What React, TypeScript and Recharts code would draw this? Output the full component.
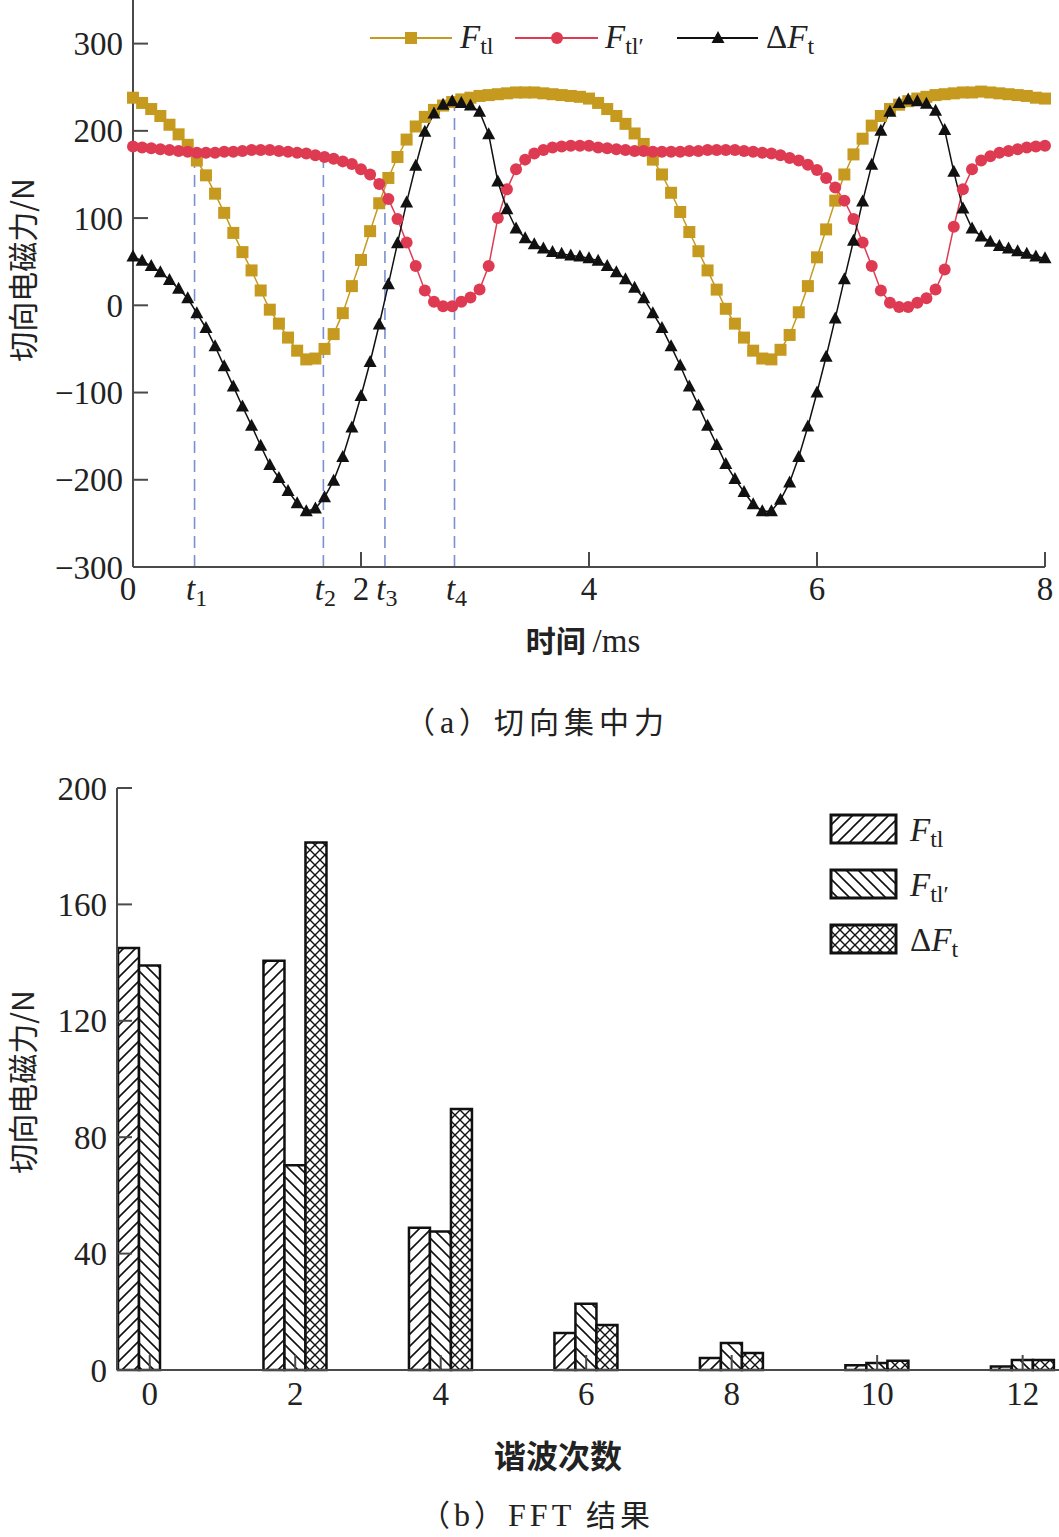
import { Bar, BarChart, Line, LineChart, ReferenceLine, XAxis, YAxis } from "recharts";

// (a) time series, sampled every 0.08 ms
const TIME = [
  0, 0.08, 0.16, 0.24, 0.32, 0.4, 0.48, 0.56, 0.64, 0.72, 0.8, 0.88, 0.96, 1.04, 1.12, 1.2, 1.28, 1.36, 1.44, 1.52,
  1.6, 1.68, 1.76, 1.84, 1.92, 2.0, 2.08, 2.16, 2.24, 2.32, 2.4, 2.48, 2.56, 2.64, 2.72, 2.8, 2.88, 2.96, 3.04, 3.12,
  3.2, 3.28, 3.36, 3.44, 3.52, 3.6, 3.68, 3.76, 3.84, 3.92, 4.0, 4.08, 4.16, 4.24, 4.32, 4.4, 4.48, 4.56, 4.64, 4.72,
  4.8, 4.88, 4.96, 5.04, 5.12, 5.2, 5.28, 5.36, 5.44, 5.52, 5.6, 5.68, 5.76, 5.84, 5.92, 6.0, 6.08, 6.16, 6.24, 6.32,
  6.4, 6.48, 6.56, 6.64, 6.72, 6.8, 6.88, 6.96, 7.04, 7.12, 7.2, 7.28, 7.36, 7.44, 7.52, 7.6, 7.68, 7.76, 7.84, 7.92,
  8.0,
];
const F_TL = [
  238, 232, 225, 217, 207, 196, 184, 166, 149, 128, 106, 83, 61, 40, 17, -5, -21, -37, -52, -62,
  -61, -50, -33, -9, 22, 52, 85, 117, 146, 170, 190, 205, 216, 224, 229, 233, 236, 238, 240, 241,
  242, 243, 244, 244, 244, 243, 242, 241, 240, 239, 237, 232, 225, 217, 208, 197, 185, 167, 150, 129,
  107, 84, 62, 40, 18, -4, -21, -37, -52, -61, -62, -51, -34, -8, 22, 55, 87, 120, 150, 173,
  191, 206, 217, 225, 230, 234, 237, 239, 241, 242, 243, 244, 244, 245, 244, 243, 242, 241, 240, 238,
  237,
];
const F_TL2 = [
  182, 181, 180, 179, 178, 177, 176, 175, 175, 175, 176, 176, 177, 178, 178, 178, 177, 176, 175, 174,
  172, 170, 168, 165, 162, 156, 150, 139, 122, 99, 72, 45, 17, 4, -1, -1, 4, 9, 18, 45,
  100, 133, 156, 167, 174, 178, 181, 182, 183, 183, 183, 181, 180, 179, 178, 177, 177, 176, 176, 176,
  176, 177, 177, 178, 178, 178, 178, 177, 176, 175, 174, 172, 169, 166, 161, 155, 146, 135, 120, 99,
  72, 45, 17, 3, -2, -2, 3, 8, 18, 41, 90, 133, 156, 166, 171, 175, 177, 179, 181, 182,
  183,
];
const DELTA_F = [
  56, 51, 45, 38, 29, 19, 8, -9, -26, -47, -70, -93, -116, -138, -161, -183, -198, -213, -227, -236,
  -233, -220, -201, -174, -140, -104, -65, -22, 24, 71, 118, 160, 199, 220, 230, 234, 232, 229, 222, 196,
  142, 110, 88, 77, 70, 65, 61, 59, 57, 56, 54, 51, 45, 38, 30, 20, 8, -9, -26, -47,
  -69, -93, -115, -138, -160, -182, -199, -214, -228, -236, -236, -223, -203, -174, -139, -100, -59, -15, 30, 74,
  119, 161, 200, 222, 232, 236, 234, 231, 223, 201, 153, 111, 88, 79, 73, 68, 65, 62, 59, 56,
  54,
];

const MARK_T = [0.54, 1.67, 2.21, 2.82];
const MARK_TOP = [166, 172, 130, 238];
const Y_TICKS_A = [-300, -200, -100, 0, 100, 200, 300];

// (b) FFT result
const HARMONICS = [0, 2, 4, 6, 8, 10, 12];
const FFT_TL = [145, 140.6, 48.9, 12.7, 4.1, 1.6, 1.2];
const FFT_TL2 = [139, 70.4, 47.6, 22.8, 9.3, 2.4, 3.4];
const FFT_DF = [0, 181.3, 89.7, 15.5, 5.8, 3.2, 3.4];
const Y_TICKS_B = [0, 40, 80, 120, 160, 200];

const timeData = TIME.map((t, i) => ({ t, ftl: F_TL[i], ftl2: F_TL2[i], df: DELTA_F[i] }));
const fftData = HARMONICS.map((h, i) => ({ h, ftl: FFT_TL[i], ftl2: FFT_TL2[i], df: FFT_DF[i] }));

const SERIF = '"Liberation Serif", "Times New Roman", serif';
const CJK = '"Noto Sans CJK SC", sans-serif';
const GOLD = "#C59A1F";
const RED = "#DE3B52";
const BLACK = "#111";
const AXIS = "#4a4a4a";
const TEXT = "#222";
const DASH = "#7C8FD0";

const fmt = (v: number) => (v < 0 ? `\u2212${Math.abs(v)}` : `${v}`);

function Sub({ base, sub, delta = false }: { base: string; sub: string; delta?: boolean }) {
  return (
    <>
      {delta && <tspan>Δ</tspan>}
      <tspan fontStyle="italic">{base}</tspan>
      <tspan fontSize={24} dy={6}>{sub}</tspan>
    </>
  );
}

function TimeTick({ x, y, payload }: any) {
  const v = payload.value as number;
  const k = MARK_T.indexOf(v);
  if (k >= 0) {
    return (
      <text x={x + 2} y={y + 33} textAnchor="middle" fontSize={33} fontFamily={SERIF} fill={TEXT}>
        <tspan fontStyle="italic">t</tspan>
        <tspan fontSize={24} dy={6}>{k + 1}</tspan>
      </text>
    );
  }
  return (
    <g>
      {v > 0 && <line x1={x} y1={y} x2={x} y2={y - 15} stroke={AXIS} strokeWidth={2} />}
      <text x={v === 0 ? x - 5 : x} y={y + 33} textAnchor="middle" fontSize={33} fontFamily={SERIF} fill={TEXT}>
        {v}
      </text>
    </g>
  );
}

function ValueTick({ x, y, payload }: any) {
  return (
    <g>
      <line x1={x} y1={y} x2={x + 15} y2={y} stroke={AXIS} strokeWidth={2} />
      <text x={x - 10} y={y} dy="0.35em" textAnchor="end" fontSize={33} fontFamily={SERIF} fill={TEXT}>
        {fmt(payload.value)}
      </text>
    </g>
  );
}

function HarmonicTick({ x, y, payload }: any) {
  return (
    <g>
      <line x1={x} y1={y} x2={x} y2={y - 15} stroke={AXIS} strokeWidth={2} />
      <text x={x} y={y + 35} textAnchor="middle" fontSize={33} fontFamily={SERIF} fill={TEXT}>
        {payload.value}
      </text>
    </g>
  );
}

const squareDot = (p: any) => (
  <rect key={`s${p.index}`} x={p.cx - 6} y={p.cy - 6} width={12} height={12} fill={GOLD} />
);
const circleDot = (p: any) => <circle key={`c${p.index}`} cx={p.cx} cy={p.cy} r={6} fill={RED} />;
const triDot = (p: any) => (
  <polygon
    key={`d${p.index}`}
    points={`${p.cx},${p.cy - 7} ${p.cx - 6.5},${p.cy + 5} ${p.cx + 6.5},${p.cy + 5}`}
    fill={BLACK}
  />
);

function Patterns() {
  return (
    <defs>
      <pattern id="hatchFwd" patternUnits="userSpaceOnUse" width="12" height="12">
        <rect width="12" height="12" fill="#fff" />
        <path d="M-3,3 L3,-3 M0,12 L12,0 M9,15 L15,9" stroke={BLACK} strokeWidth={1.6} />
      </pattern>
      <pattern id="hatchBack" patternUnits="userSpaceOnUse" width="12" height="12">
        <rect width="12" height="12" fill="#fff" />
        <path d="M-3,9 L3,15 M0,0 L12,12 M9,-3 L15,3" stroke={BLACK} strokeWidth={1.6} />
      </pattern>
      <pattern id="hatchCross" patternUnits="userSpaceOnUse" width="10" height="10">
        <rect width="10" height="10" fill="#fff" />
        <path d="M0,0 L10,10 M10,0 L0,10" stroke={BLACK} strokeWidth={1.4} />
      </pattern>
    </defs>
  );
}

export default function App() {
  return (
    <div style={{ position: "absolute", left: 0, top: 0, width: 1059, height: 1537, background: "#fff", overflow: "hidden" }}>
      <div style={{ position: "absolute", left: 0, top: 0 }}>
        <LineChart width={1059} height={680} data={timeData} margin={{ top: 0, right: 14, bottom: 73, left: 0 }}>
          <XAxis
            dataKey="t"
            type="number"
            domain={[0, 8]}
            ticks={[0, MARK_T[0], MARK_T[1], 2, MARK_T[2], MARK_T[3], 4, 6, 8]}
            interval={0}
            height={40}
            tickSize={0}
            tickMargin={0}
            tickLine={false}
            tick={<TimeTick />}
            axisLine={{ stroke: AXIS, strokeWidth: 2 }}
          />
          <YAxis
            type="number"
            domain={[-300, 350]}
            ticks={Y_TICKS_A}
            interval={0}
            width={133}
            tickSize={0}
            tickMargin={0}
            tickLine={false}
            tick={<ValueTick />}
            axisLine={{ stroke: AXIS, strokeWidth: 2 }}
          />
          {MARK_T.map((t, i) => (
            <ReferenceLine
              key={t}
              segment={[
                { x: t, y: -300 },
                { x: t, y: MARK_TOP[i] },
              ]}
              stroke={DASH}
              strokeWidth={1.6}
              strokeDasharray="12 7"
            />
          ))}
          <Line type="linear" dataKey="ftl" stroke={GOLD} strokeWidth={1.5} dot={squareDot} activeDot={false} isAnimationActive={false} />
          <Line type="linear" dataKey="ftl2" stroke={RED} strokeWidth={1.5} dot={circleDot} activeDot={false} isAnimationActive={false} />
          <Line type="linear" dataKey="df" stroke={BLACK} strokeWidth={1.5} dot={triDot} activeDot={false} isAnimationActive={false} />
        </LineChart>
      </div>

      <div style={{ position: "absolute", left: 0, top: 760 }}>
        <BarChart width={1059} height={660} data={fftData} barGap={0} margin={{ top: 28, right: 0, bottom: 10, left: 0 }}>
          <Patterns />
          <XAxis
            dataKey="h"
            type="number"
            domain={[-0.45, 12.5]}
            ticks={HARMONICS}
            interval={0}
            height={40}
            tickSize={0}
            tickMargin={0}
            tickLine={false}
            tick={<HarmonicTick />}
            axisLine={{ stroke: AXIS, strokeWidth: 2 }}
          />
          <YAxis
            type="number"
            domain={[0, 200]}
            ticks={Y_TICKS_B}
            interval={0}
            width={117}
            tickSize={0}
            tickMargin={0}
            tickLine={false}
            tick={<ValueTick />}
            axisLine={{ stroke: AXIS, strokeWidth: 2 }}
          />
          <Bar dataKey="ftl" barSize={21} fill="url(#hatchFwd)" stroke={BLACK} strokeWidth={2.5} isAnimationActive={false} />
          <Bar dataKey="ftl2" barSize={21} fill="url(#hatchBack)" stroke={BLACK} strokeWidth={2.5} isAnimationActive={false} />
          <Bar dataKey="df" barSize={21} fill="url(#hatchCross)" stroke={BLACK} strokeWidth={2.5} isAnimationActive={false} />
        </BarChart>
      </div>

      <svg width={1059} height={1537} style={{ position: "absolute", left: 0, top: 0, pointerEvents: "none" }}>
        {/* legend (a) */}
        <g fontFamily={SERIF} fontSize={33} fill={TEXT}>
          <line x1={370} x2={452} y1={38} y2={38} stroke={GOLD} strokeWidth={2} />
          <rect x={405} y={32} width={12} height={12} fill={GOLD} />
          <text x={460} y={48}><Sub base="F" sub="tl" /></text>
          <line x1={515} x2={598} y1={38} y2={38} stroke={RED} strokeWidth={2} />
          <circle cx={557} cy={38} r={6} fill={RED} />
          <text x={605} y={48}><Sub base="F" sub="tl′" /></text>
          <line x1={677} x2={758} y1={38} y2={38} stroke={BLACK} strokeWidth={2} />
          <polygon points="718,31 711.5,43 724.5,43" fill={BLACK} />
          <text x={766} y={48}><Sub base="F" sub="t" delta /></text>
        </g>

        {/* axis titles (a) */}
        <text transform="translate(34,270) rotate(-90)" textAnchor="middle" fontSize={30} fontFamily={CJK} fill={TEXT}>
          切向电磁力/N
        </text>
        <text x={583} y={652} textAnchor="middle" fill={TEXT}>
          <tspan fontFamily={CJK} fontSize={30} fontWeight={700}>时间 </tspan>
          <tspan fontFamily={SERIF} fontSize={33}>/ms</tspan>
        </text>
        <text x={537} y={733} textAnchor="middle" fill={TEXT} fontSize={30} fontFamily={CJK} letterSpacing={5}>
          （<tspan fontFamily={SERIF} fontSize={32}>a</tspan>）切向集中力
        </text>

        {/* legend (b) */}
        <g fontFamily={SERIF} fontSize={33} fill={TEXT}>
          <rect x={831} y={815} width={65} height={28} fill="url(#hatchFwd)" stroke={BLACK} strokeWidth={3} />
          <text x={910} y={841}><Sub base="F" sub="tl" /></text>
          <rect x={831} y={870} width={65} height={28} fill="url(#hatchBack)" stroke={BLACK} strokeWidth={3} />
          <text x={910} y={896}><Sub base="F" sub="tl′" /></text>
          <rect x={831} y={925} width={65} height={28} fill="url(#hatchCross)" stroke={BLACK} strokeWidth={3} />
          <text x={910} y={951}><Sub base="F" sub="t" delta /></text>
        </g>

        {/* axis titles (b) */}
        <text transform="translate(34,1082) rotate(-90)" textAnchor="middle" fontSize={30} fontFamily={CJK} fill={TEXT}>
          切向电磁力/N
        </text>
        <text x={558} y={1468} textAnchor="middle" fontSize={32} fontWeight={700} fontFamily={CJK} fill={TEXT}>
          谐波次数
        </text>
        <text x={537} y={1526} textAnchor="middle" fill={TEXT} fontSize={30} fontFamily={CJK} letterSpacing={4}>
          （<tspan fontFamily={SERIF} fontSize={32}>b</tspan>）<tspan fontFamily={SERIF} fontSize={32}>FFT</tspan> 结果
        </text>
      </svg>
    </div>
  );
}
